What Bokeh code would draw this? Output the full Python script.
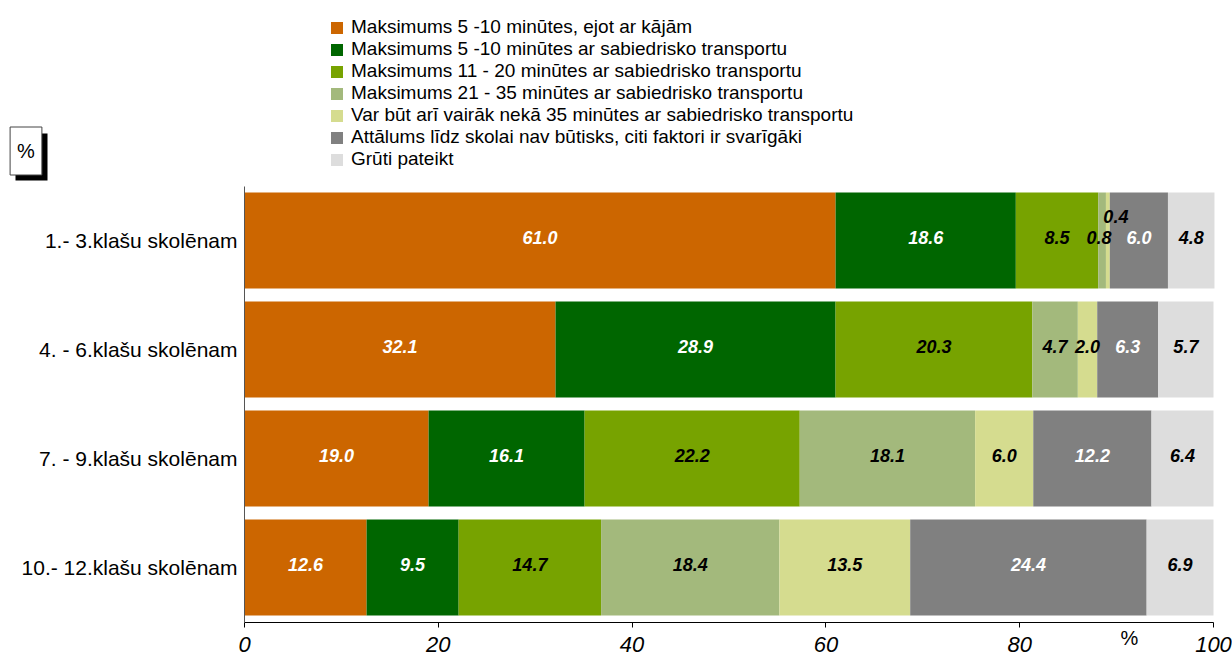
import numpy as np
from bokeh.plotting import figure
from bokeh.models import (ColumnDataSource, Legend, LegendItem, Label, FixedTicker,
                          BoxAnnotation, Range1d)
from bokeh.core.properties import value
from bokeh.embed import file_html
from bokeh.resources import INLINE

categories = ["1.- 3.klašu skolēnam", "4. - 6.klašu skolēnam",
              "7. - 9.klašu skolēnam", "10.- 12.klašu skolēnam"]
series_names = [
    "Maksimums 5 -10 minūtes, ejot ar kājām",
    "Maksimums 5 -10 minūtes ar sabiedrisko transportu",
    "Maksimums 11 - 20 minūtes ar sabiedrisko transportu",
    "Maksimums 21 - 35 minūtes ar sabiedrisko transportu",
    "Var būt arī vairāk nekā 35 minūtes ar sabiedrisko transportu",
    "Attālums līdz skolai nav būtisks, citi faktori ir svarīgāki",
    "Grūti pateikt",
]
walk_5_10 = [61.0, 32.1, 19.0, 12.6]
pt_5_10 = [18.6, 28.9, 16.1, 9.5]
pt_11_20 = [8.5, 20.3, 22.2, 14.7]
pt_21_35 = [0.8, 4.7, 18.1, 18.4]
pt_over_35 = [0.4, 2.0, 6.0, 13.5]
not_important = [6.0, 6.3, 12.2, 24.4]
hard_to_say = [4.8, 5.7, 6.4, 6.9]
x_ticks = [0, 20, 40, 60, 80, 100]

series = [walk_5_10, pt_5_10, pt_11_20, pt_21_35, pt_over_35, not_important, hard_to_say]
keys = ["s%d" % i for i in range(len(series))]
colors = ["#CC6600", "#006600", "#77A300", "#A3B97C", "#D5DC8F", "#808080", "#DDDDDD"]
label_colors = ["white", "white", "black", "black", "black", "white", "black"]

FONT = "Liberation Sans"
W, H = 1232, 659
# layout: pixel positions of value 0 / 100 and of the category band
X0_PX, X100_PX = 244.0, 1213.0
Y0_PX, ROW_PX = 621.5, 109.0
n = len(categories)
xs = (X100_PX - X0_PX) / 100.0
x_start = -X0_PX / xs
x_end = 100 + (W - X100_PX) / xs
y_start = -(H - Y0_PX) / ROW_PX
y_end = Y0_PX / ROW_PX


def px_x(px):
    return (px - X0_PX) / xs


def px_y(py):
    return (Y0_PX - py) / ROW_PX


ypos = [n - 0.5 - i for i in range(n)]

data = {"y": ypos}
for k, s in zip(keys, series):
    data[k] = s
source = ColumnDataSource(data)

p = figure(width=W, height=H, output_backend="svg", toolbar_location=None,
           x_range=Range1d(x_start, x_end), y_range=Range1d(y_start, y_end),
           min_border=0)
p.outline_line_color = None
p.xgrid.visible = False
p.ygrid.visible = False
p.background_fill_color = "white"
p.border_fill_color = "white"

renderers = p.hbar_stack(keys, y="y", height=0.88, color=colors, line_color=None,
                         source=source)

# value labels
lx, ly, lt, lc, lxo, lyo = [], [], [], [], [], []
arr = np.array(series)
cum = np.cumsum(arr, axis=0)
for si in range(arr.shape[0]):
    for ci in range(n):
        v = arr[si, ci]
        lx.append(cum[si, ci] - v / 2.0)
        ly.append(ypos[ci])
        lt.append("%.1f" % v)
        lc.append(label_colors[si])
        xo, yo = 0, -3
        if v < 1.0:
            if si == 4:
                xo, yo = 8, -24
            else:
                xo, yo = -3, -3
        lxo.append(xo)
        lyo.append(yo)
lab_src = ColumnDataSource(dict(x=lx, y=ly, text=lt, color=lc, xo=lxo, yo=lyo))
p.text(x="x", y="y", text="text", source=lab_src, text_color="color",
       x_offset="xo", y_offset="yo",
       text_font=value(FONT), text_font_style="bold italic", text_font_size="18px",
       text_align="center", text_baseline="middle")

# axes (fixed inside the canvas)
xa = p.xaxis[0]
xa.fixed_location = 0
xa.bounds = (0, 100)
xa.ticker = FixedTicker(ticks=x_ticks)
xa.major_label_text_font = FONT
xa.major_label_text_font_style = "italic"
xa.major_label_text_font_size = "22px"
xa.major_label_text_color = "black"
xa.major_tick_out = 5
xa.major_tick_in = 0
xa.minor_tick_out = 0
xa.minor_tick_in = 0
xa.major_label_standoff = 10
xa.axis_line_color = "black"
xa.major_tick_line_color = "black"

ya = p.yaxis[0]
ya.fixed_location = 0
ya.bounds = (0, n)
ya.ticker = FixedTicker(ticks=ypos)
ya.major_label_overrides = {float(yv): c for yv, c in zip(ypos, categories)}
ya.major_label_text_font = FONT
ya.major_label_text_font_size = "21px"
ya.major_label_text_color = "black"
ya.major_tick_out = 0
ya.major_tick_in = 0
ya.minor_tick_out = 0
ya.minor_tick_in = 0
ya.major_label_standoff = 7
ya.axis_line_color = "#555555"

# legend
items = [LegendItem(label=nm, renderers=[r]) for nm, r in zip(series_names, renderers)]
legend = Legend(items=items, location=(329, 489), orientation="vertical",
                border_line_color=None, background_fill_alpha=0, padding=0, margin=0,
                spacing=0, label_standoff=7, glyph_width=15, glyph_height=15,
                label_height=21, label_text_font=FONT, label_text_font_size="19px",
                label_text_color="black")
p.add_layout(legend)

# "%" box with shadow
shadow = BoxAnnotation(left=px_x(15), right=px_x(47), top=px_y(133), bottom=px_y(180),
                       fill_color="black", fill_alpha=1.0, line_color=None)
p.add_layout(shadow)
box = Label(x=px_x(25.5), y=px_y(150.5), text="%",
            text_align="center", text_baseline="middle", text_font=FONT,
            text_font_size="20px", text_color="black",
            background_fill_color="white", border_line_color="#444444",
            padding=(7, 13))
p.add_layout(box)

# x-axis unit label
xl = Label(x=px_x(1129), y=px_y(637), text="%", text_align="center",
           text_baseline="middle", text_font=FONT, text_font_size="20px",
           text_color="black")
p.add_layout(xl)

open("out.html", "w").write(file_html(p, INLINE))
